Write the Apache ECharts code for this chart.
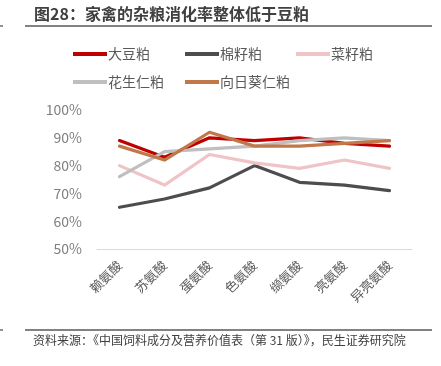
<!DOCTYPE html>
<html><head><meta charset="utf-8">
<script src="https://cdn.jsdelivr.net/npm/echarts@6/dist/echarts.min.js"></script>
<style>html,body{margin:0;padding:0;background:#fff}#c{width:441px;height:366px}</style>
</head><body><div id="c"></div>
<script>
const categories = ['赖氨酸','苏氨酸','蛋氨酸','色氨酸','缬氨酸','亮氨酸','异亮氨酸'];
const soybean = [89, 83, 90, 89, 90, 88, 87];
const cottonseed = [65, 68, 72, 80, 74, 73, 71];
const rapeseed = [80, 73, 84, 81, 79, 82, 79];
const peanut = [76, 85, 86, 87, 89, 90, 89];
const sunflower = [87, 82, 92, 87, 87, 88, 89];
const yTicks = [50, 60, 70, 80, 90, 100];

const FONT = '"Noto Sans CJK SC", "Noto Sans", sans-serif';
const chart = echarts.init(document.getElementById('c'), null, {renderer:'canvas'});
function s(name, data, color){
  return {name, type:'line', data, symbol:'none', smooth:false,
    lineStyle:{color, width:3.2, cap:'round', join:'round'}, itemStyle:{color}};
}
const legendPos = [[68,42],[180,42],[291,42],[68,70],[180,70]];
const names = ['大豆粕','棉籽粕','菜籽粕','花生仁粕','向日葵仁粕'];
chart.setOption({
  animation:false,
  textStyle:{fontFamily:FONT},
  graphic:[
    {type:'text', left:34, top:6, style:{text:'图28：家禽的杂粮消化率整体低于豆粕', font:'bold 16px '+FONT, fill:'#404040'}},
    {type:'line', shape:{x1:25,y1:26,x2:432,y2:26}, style:{stroke:'#595959', lineWidth:1.3}},
    {type:'line', shape:{x1:0,y1:26,x2:3,y2:26}, style:{stroke:'#595959', lineWidth:1.3}},
    {type:'line', shape:{x1:25,y1:330,x2:432,y2:330}, style:{stroke:'#595959', lineWidth:1.3}},
    {type:'line', shape:{x1:0,y1:330,x2:3,y2:330}, style:{stroke:'#595959', lineWidth:1.3}},
    {type:'text', left:33, top:334, style:{text:'资料来源：《中国饲料成分及营养价值表（第 31 版）》，民生证券研究院', font:'12px '+FONT, fill:'#404040'}}
  ],
  legend: names.map((n,i)=>({left:legendPos[i][0], top:legendPos[i][1], itemWidth:34, itemHeight:4, itemGap:0, icon:'rect',
     data:[n], textStyle:{fontSize:14, color:'#595959', padding:[0,0,0,-4]}})),
  grid:{left:97, right:29, top:110, bottom:117, containLabel:false},
  xAxis:{type:'category', data:categories, boundaryGap:true,
    axisLine:{show:true, lineStyle:{color:'#d9d9d9', width:1}},
    axisTick:{show:false},
    axisLabel:{rotate:45, fontSize:13, color:'#595959', margin:14, interval:0}},
  yAxis:{type:'value', min:yTicks[0], max:yTicks[yTicks.length-1], interval:10,
    axisLine:{show:false}, axisTick:{show:false}, splitLine:{show:false},
    axisLabel:{formatter:v=>v+'%', fontSize:14, color:'#7f7f7f', margin:15}},
  series:[
    s('大豆粕', soybean, '#C00000'),
    s('棉籽粕', cottonseed, '#4D4D4D'),
    s('菜籽粕', rapeseed, '#EFC4C6'),
    s('花生仁粕', peanut, '#BFBFBF'),
    s('向日葵仁粕', sunflower, '#C0784A')
  ]
});
</script></body></html>
